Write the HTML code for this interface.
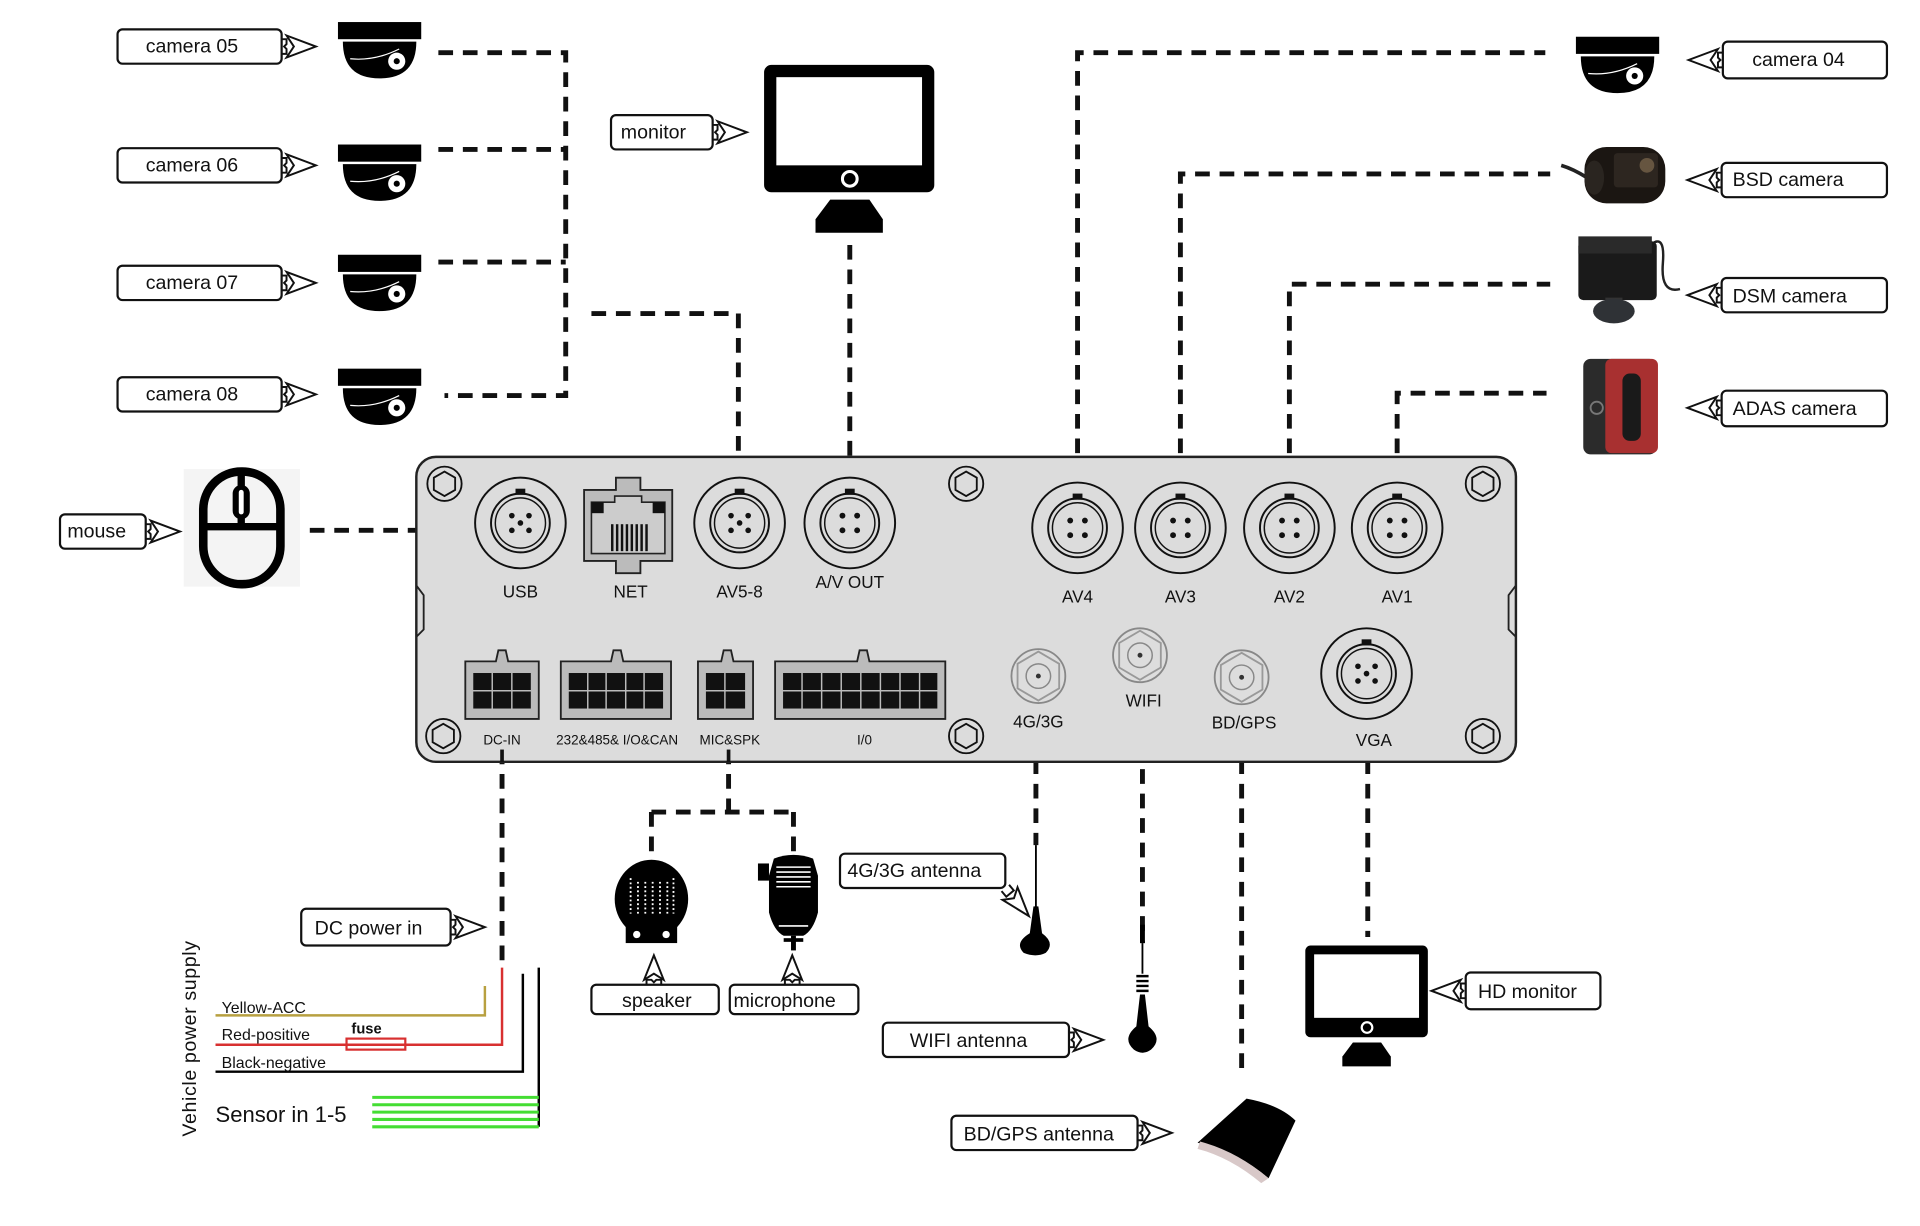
<!DOCTYPE html>
<html><head><meta charset="utf-8"><style>
html,body{margin:0;padding:0;background:#fff;}
svg{display:block;}
text{font-family:"Liberation Sans",sans-serif;fill:#111;}
</style></head><body>
<svg width="1920" height="1226" viewBox="0 0 1568 1001" preserveAspectRatio="none" xmlns="http://www.w3.org/2000/svg">
<defs>
 <g id="cam">
  <rect x="0" y="0" width="68" height="14" fill="#000"/>
  <path d="M4 16 L64 16 Q64 46 34 46 Q4 46 4 16 Z" fill="#000"/>
  <path d="M10 30 Q30 32 50 22" stroke="#fff" stroke-width="1" fill="none"/>
  <circle cx="48" cy="32" r="7" fill="#fff"/><circle cx="48" cy="32" r="2.5" fill="#000"/>
 </g>
 <g id="circ">
  <circle r="37" fill="none" stroke="#111" stroke-width="1.6"/>
  <circle r="24" fill="none" stroke="#111" stroke-width="1.6"/>
  <circle r="20.5" fill="none" stroke="#111" stroke-width="1.2"/>
  <rect x="-4" y="-28" width="8" height="5" fill="#111"/>
 </g>
 <g id="p4"><circle cx="-6" cy="-6" r="2.4" fill="#111"/><circle cx="6" cy="-6" r="2.4" fill="#111"/><circle cx="-6" cy="6" r="2.4" fill="#111"/><circle cx="6" cy="6" r="2.4" fill="#111"/></g>
 <g id="p5"><circle cx="-7" cy="-6" r="2.3" fill="#111"/><circle cx="7" cy="-6" r="2.3" fill="#111"/><circle cx="-7" cy="6" r="2.3" fill="#111"/><circle cx="7" cy="6" r="2.3" fill="#111"/><circle cx="0" cy="0" r="2.3" fill="#111"/></g>
 <g id="screw"><circle r="14" fill="none" stroke="#111" stroke-width="1.5"/><polygon points="0,-10 8.7,-5 8.7,5 0,10 -8.7,5 -8.7,-5" fill="none" stroke="#111" stroke-width="1.5"/></g>
 <g id="sma"><circle r="22" fill="#ddd" stroke="#888" stroke-width="1.5"/><polygon points="0,-20 17,-10 17,10 0,20 -17,10 -17,-10" fill="none" stroke="#999" stroke-width="1.5"/><circle r="10" fill="none" stroke="#888" stroke-width="1.2"/><circle r="2" fill="#333"/></g>
 <g id="arR"><path d="M0 -6 L4 -6 L4 -2 L2 0 L4 2 L4 6 L0 6" fill="none" stroke="#111" stroke-width="1.6"/><path d="M4 -9 L28 0 L4 9 L10 0 Z" fill="#fff" stroke="#111" stroke-width="1.6"/></g>
 <g id="arL"><path d="M0 -6 L-4 -6 L-4 -2 L-2 0 L-4 2 L-4 6 L0 6" fill="none" stroke="#111" stroke-width="1.6"/><path d="M-4 -9 L-28 0 L-4 9 L-10 0 Z" fill="#fff" stroke="#111" stroke-width="1.6"/></g>
 <g id="arU"><path d="M-6 0 L-6 -4 L-2 -4 L0 -2 L2 -4 L6 -4 L6 0" fill="none" stroke="#111" stroke-width="1.6"/><path d="M-8 -4 L0 -24 L8 -4 L0 -9 Z" fill="#fff" stroke="#111" stroke-width="1.6"/></g>
 <g id="mon">
  <rect x="0" y="0" width="139" height="104" rx="6" fill="#000"/>
  <rect x="10" y="10" width="119" height="72" fill="#fff"/>
  <circle cx="70" cy="93" r="6" fill="none" stroke="#fff" stroke-width="2.5"/>
  <path d="M54 110 L86 110 L97 126 L97 137 L42 137 L42 126 Z" fill="#000"/>
 </g>
</defs>

<g fill="none" stroke="#111" stroke-width="4" stroke-dasharray="12 8">
 <path d="M358 43 H462 V323 H363"/>
 <path d="M358 122 H462"/>
 <path d="M358 214 H462"/>
 <path d="M483 256 H603 V382"/>
 <path d="M694 200 V388"/>
 <path d="M253 433 H388"/>
 <path d="M880 390 V43 H1262"/>
 <path d="M964 390 V142 H1266"/>
 <path d="M1053 390 V232 H1266"/>
 <path d="M1141 390 V321 H1263"/>
 <path d="M410 612 V785"/>
 <path d="M595 612 V663 M532 663 H648 M532 663 V700 M648 663 V700"/>
 <path d="M846 600 V690"/>
 <path d="M933 588 V770"/>
 <path d="M1014 600 V880"/>
 <path d="M1117 620 V765"/>
</g>

<rect x="340" y="373" width="898" height="249" rx="16" fill="#dcdcdc" stroke="#222" stroke-width="2"/>
<path d="M340 478 L346 486 L346 514 L340 520" fill="none" stroke="#222" stroke-width="1.5"/>
<path d="M1238 478 L1232 486 L1232 514 L1238 520" fill="none" stroke="#222" stroke-width="1.5"/>
<g stroke="#111" stroke-width="3"><line x1="410" y1="612" x2="410" y2="622"/><line x1="595" y1="612" x2="595" y2="622"/></g>
<use href="#screw" x="363" y="395"/><use href="#screw" x="789" y="395"/><use href="#screw" x="1211" y="395"/>
<use href="#screw" x="362" y="601"/><use href="#screw" x="789" y="601"/><use href="#screw" x="1211" y="601"/>
<use href="#circ" x="425" y="427"/><use href="#p5" x="425" y="427"/>
<use href="#circ" x="604" y="427"/><use href="#p5" x="604" y="427"/>
<use href="#circ" x="694" y="427"/><use href="#p4" x="694" y="427"/>
<use href="#circ" x="880" y="431"/><use href="#p4" x="880" y="431"/>
<use href="#circ" x="964" y="431"/><use href="#p4" x="964" y="431"/>
<use href="#circ" x="1053" y="431"/><use href="#p4" x="1053" y="431"/>
<use href="#circ" x="1141" y="431"/><use href="#p4" x="1141" y="431"/>
<use href="#circ" x="1116" y="550"/><use href="#p5" x="1116" y="550"/>
<path d="M477 400 H503 V390 H523 V400 H549 V458 H523 V468 H503 V458 H477 Z" fill="#bbb" stroke="#222" stroke-width="1.5"/>
<path d="M483 410 H502 V405 H524 V410 H543 V452 H483 Z" fill="#ccc" stroke="#222" stroke-width="1.3"/>
<rect x="483" y="410" width="10" height="9" fill="#111"/><rect x="533" y="410" width="10" height="9" fill="#111"/>
<g fill="#111"><rect x="499" y="428" width="2" height="22"/><rect x="503" y="428" width="2" height="22"/><rect x="507" y="428" width="2" height="22"/><rect x="511" y="428" width="2" height="22"/><rect x="515" y="428" width="2" height="22"/><rect x="519" y="428" width="2" height="22"/><rect x="523" y="428" width="2" height="22"/><rect x="527" y="428" width="2" height="22"/></g>
<g stroke="#222" stroke-width="1.5" fill="#bbb">
 <path d="M380 540 H405 L407 531 H413 L415 540 H440 V587 H380 Z"/>
 <path d="M458 540 H499 L501 531 H507 L509 540 H548 V587 H458 Z"/>
 <path d="M570 540 H589 L591 531 H597 L599 540 H615 V587 H570 Z"/>
 <path d="M633 540 H700 L702 531 H708 L710 540 H772 V587 H633 Z"/>
</g>
<g fill="#111" stroke="#bbb" stroke-width="1">
 <rect x="386" y="549" width="48" height="30"/>
 <rect x="464" y="549" width="78" height="30"/>
 <rect x="576" y="549" width="33" height="30"/>
 <rect x="639" y="549" width="127" height="30"/>
</g>
<g stroke="#bbb" stroke-width="1.2">
 <line x1="386" y1="564" x2="434" y2="564"/><line x1="402" y1="549" x2="402" y2="579"/><line x1="418" y1="549" x2="418" y2="579"/>
 <line x1="464" y1="564" x2="542" y2="564"/><line x1="480" y1="549" x2="480" y2="579"/><line x1="495" y1="549" x2="495" y2="579"/><line x1="511" y1="549" x2="511" y2="579"/><line x1="526" y1="549" x2="526" y2="579"/>
 <line x1="576" y1="564" x2="609" y2="564"/><line x1="592" y1="549" x2="592" y2="579"/>
 <line x1="639" y1="564" x2="766" y2="564"/><line x1="655" y1="549" x2="655" y2="579"/><line x1="671" y1="549" x2="671" y2="579"/><line x1="687" y1="549" x2="687" y2="579"/><line x1="703" y1="549" x2="703" y2="579"/><line x1="719" y1="549" x2="719" y2="579"/><line x1="735" y1="549" x2="735" y2="579"/><line x1="751" y1="549" x2="751" y2="579"/>
</g>
<use href="#sma" x="848" y="552"/><use href="#sma" x="931" y="535"/><use href="#sma" x="1014" y="553"/>
<g font-size="14" text-anchor="middle">
 <text x="425" y="488">USB</text><text x="515" y="488">NET</text><text x="604" y="488">AV5-8</text><text x="694" y="480">A/V OUT</text>
 <text x="880" y="492">AV4</text><text x="964" y="492">AV3</text><text x="1053" y="492">AV2</text><text x="1141" y="492">AV1</text>
 <text x="848" y="594">4G/3G</text><text x="934" y="577">WIFI</text><text x="1016" y="595">BD/GPS</text><text x="1122" y="609">VGA</text>
</g>
<g font-size="11" text-anchor="middle">
 <text x="410" y="608">DC-IN</text><text x="504" y="608">232&amp;485&amp; I/O&amp;CAN</text><text x="596" y="608">MIC&amp;SPK</text><text x="706" y="608">I/0</text>
</g>

<use href="#cam" x="276" y="18"/><use href="#cam" x="276" y="118"/><use href="#cam" x="276" y="208"/><use href="#cam" x="276" y="301"/>
<use href="#cam" x="1287" y="30"/>
<g fill="#fff" stroke="#111" stroke-width="1.8">
 <rect x="96" y="24" width="134" height="28" rx="4"/><rect x="96" y="121" width="134" height="28" rx="4"/>
 <rect x="96" y="217" width="134" height="28" rx="4"/><rect x="96" y="308" width="134" height="28" rx="4"/>
 <rect x="499" y="94" width="83" height="28" rx="4"/><rect x="49" y="420" width="70" height="28" rx="4"/>
 <rect x="1407" y="34" width="134" height="30" rx="4"/><rect x="1406" y="133" width="135" height="28" rx="4"/>
 <rect x="1406" y="227" width="135" height="28" rx="4"/><rect x="1406" y="319" width="135" height="29" rx="4"/>
 <rect x="246" y="742" width="122" height="30" rx="4"/><rect x="483" y="804" width="104" height="24" rx="4"/>
 <rect x="596" y="804" width="105" height="24" rx="4"/><rect x="686" y="697" width="135" height="28" rx="4"/>
 <rect x="721" y="835" width="152" height="28" rx="4"/><rect x="777" y="911" width="152" height="28" rx="4"/>
 <rect x="1197" y="794" width="110" height="30" rx="4"/>
</g>
<g font-size="16">
 <text x="119" y="43">camera 05</text><text x="119" y="140">camera 06</text><text x="119" y="236">camera 07</text><text x="119" y="327">camera 08</text>
 <text x="507" y="113">monitor</text><text x="55" y="439">mouse</text>
 <text x="1431" y="54">camera 04</text><text x="1415" y="152">BSD camera</text><text x="1415" y="247">DSM camera</text><text x="1415" y="339">ADAS camera</text>
 <text x="257" y="763">DC power in</text><text x="508" y="822">speaker</text><text x="599" y="822">microphone</text>
 <text x="692" y="716">4G/3G antenna</text><text x="743" y="855">WIFI  antenna</text><text x="787" y="931">BD/GPS antenna</text>
 <text x="1207" y="815">HD monitor</text>
</g>
<use href="#arR" x="230" y="38"/><use href="#arR" x="230" y="135"/><use href="#arR" x="230" y="231"/><use href="#arR" x="230" y="322"/>
<use href="#arR" x="582" y="108"/><use href="#arR" x="119" y="434"/><use href="#arR" x="368" y="757"/>
<use href="#arR" x="873" y="849"/><use href="#arR" x="929" y="925"/>
<use href="#arL" x="1407" y="49"/><use href="#arL" x="1406" y="147"/><use href="#arL" x="1406" y="241"/><use href="#arL" x="1406" y="333"/><use href="#arL" x="1197" y="809"/>
<use href="#arU" x="534" y="804"/><use href="#arU" x="647" y="804"/>
<g transform="translate(821,725) rotate(-40)"><path d="M-4 0 L-4 6 L4 6 L4 0 M-8 6 L0 30 L8 6 L0 11 Z" fill="#fff" stroke="#111" stroke-width="1.6"/></g>

<use href="#mon" x="624" y="53"/>
<g transform="translate(1066,772) scale(0.72)"><use href="#mon"/></g>

<rect x="150" y="383" width="95" height="96" fill="#f4f4f4"/>
<rect x="166" y="385" width="63" height="92" rx="31" fill="none" stroke="#000" stroke-width="7"/>
<line x1="166" y1="430" x2="229" y2="430" stroke="#000" stroke-width="6"/>
<line x1="197" y1="388" x2="197" y2="430" stroke="#000" stroke-width="6"/>
<rect x="190" y="396" width="14" height="28" rx="7" fill="#000"/><rect x="195" y="400" width="4" height="20" rx="2" fill="#fff"/>

<g>
 <path d="M1275 135 Q1285 138 1296 145" stroke="#222" stroke-width="3" fill="none"/>
 <rect x="1294" y="120" width="66" height="46" rx="18" fill="#1b1612"/>
 <rect x="1318" y="125" width="36" height="28" rx="3" fill="#2d2620"/>
 <circle cx="1345" cy="135" r="6" fill="#665540"/>
 <ellipse cx="1302" cy="145" rx="8" ry="14" fill="#2a2520"/>
</g>
<g>
 <path d="M1348 200 Q1360 190 1358 215 Q1356 240 1372 236" stroke="#222" stroke-width="2" fill="none"/>
 <rect x="1289" y="197" width="64" height="48" rx="4" fill="#1a1a1a"/>
 <rect x="1289" y="193" width="60" height="14" fill="#2a2a2a"/>
 <rect x="1311" y="243" width="14" height="10" fill="#333"/>
 <ellipse cx="1318" cy="254" rx="17" ry="10" fill="#2f3236"/>
</g>
<g>
 <rect x="1293" y="293" width="60" height="78" rx="6" fill="#2b2b2b"/>
 <rect x="1311" y="293" width="43" height="77" rx="5" fill="#a83030"/>
 <rect x="1325" y="305" width="15" height="55" rx="6" fill="#1a1a1a"/>
 <circle cx="1304" cy="333" r="5" fill="none" stroke="#777" stroke-width="1.5"/>
</g>

<g>
 <ellipse cx="532" cy="734" rx="30" ry="32" fill="#000"/>
 <rect x="511" y="752" width="42" height="18" fill="#000"/>
 <circle cx="520" cy="763" r="3" fill="#fff"/><circle cx="544" cy="763" r="3" fill="#fff"/>
 <g stroke="#fff" stroke-width="1.5" stroke-dasharray="1.5 2"><line x1="515" y1="717" x2="515" y2="746"/><line x1="521" y1="720" x2="521" y2="746"/><line x1="527" y1="720" x2="527" y2="746"/><line x1="533" y1="720" x2="533" y2="746"/><line x1="539" y1="720" x2="539" y2="746"/><line x1="545" y1="720" x2="545" y2="746"/><line x1="550" y1="717" x2="550" y2="746"/></g>
</g>
<g>
 <path d="M632 701 Q648 695 664 701 L668 715 L668 745 Q664 760 656 764 L640 764 Q632 760 628 745 L628 715 Z" fill="#000"/>
 <rect x="619" y="705" width="9" height="14" fill="#000"/>
 <g stroke="#fff" stroke-width="1.3"><line x1="634" y1="708" x2="662" y2="708"/><line x1="634" y1="712" x2="662" y2="712"/><line x1="634" y1="716" x2="662" y2="716"/><line x1="634" y1="720" x2="662" y2="720"/><line x1="634" y1="724" x2="662" y2="724"/><line x1="636" y1="756" x2="660" y2="756"/></g>
 <rect x="646" y="764" width="4" height="12" fill="#000"/><rect x="640" y="766" width="16" height="3" fill="#000"/>
</g>
<g><line x1="846" y1="690" x2="846" y2="745" stroke="#000" stroke-width="1.5"/><path d="M844 740 L848 740 L851 762 Q862 770 854 778 Q846 782 836 778 Q828 770 841 762 Z" fill="#000"/></g>
<g><rect x="931" y="755" width="4" height="15" fill="#000"/><line x1="933" y1="770" x2="933" y2="795" stroke="#000" stroke-width="1.5"/>
<path d="M928 797 h10 M928 801 h10 M928 805 h10 M928 809 h10" stroke="#000" stroke-width="2"/>
<path d="M931 812 L935 812 L938 838 Q950 848 940 857 Q933 862 926 857 Q916 848 928 838 Z" fill="#000"/></g>
<g><path d="M1018 897 Q1045 902 1058 915 L1036 962 Q1010 940 978 933 Z" fill="#000"/>
<path d="M980 932 Q1010 940 1036 962 L1030 966 Q1005 945 978 938 Z" fill="#d8c8c8"/></g>

<text transform="translate(160,928) rotate(-90)" font-size="16" letter-spacing="0.5">Vehicle power supply</text>
<g fill="none" stroke-width="2">
 <path d="M396 805 V829 H176" stroke="#b8a040"/>
 <path d="M410 790 V853 H176" stroke="#d83030"/>
 <path d="M427 795 V875 H176" stroke="#000"/>
 <path d="M440 790 V920" stroke="#000"/>
</g>
<rect x="283" y="848" width="48" height="9" fill="none" stroke="#d83030" stroke-width="1.8"/>
<g stroke="#44dd33" stroke-width="2.5"><line x1="304" y1="896" x2="440" y2="896"/><line x1="304" y1="902" x2="440" y2="902"/><line x1="304" y1="908" x2="440" y2="908"/><line x1="304" y1="914" x2="440" y2="914"/><line x1="304" y1="920" x2="440" y2="920"/></g>
<g font-size="13"><text x="181" y="827">Yellow-ACC</text><text x="181" y="849">Red-positive</text><text x="181" y="872">Black-negative</text></g>
<text x="287" y="844" font-size="12" font-weight="bold">fuse</text>
<text x="176" y="916" font-size="18">Sensor in 1-5</text>
</svg>
</body></html>
